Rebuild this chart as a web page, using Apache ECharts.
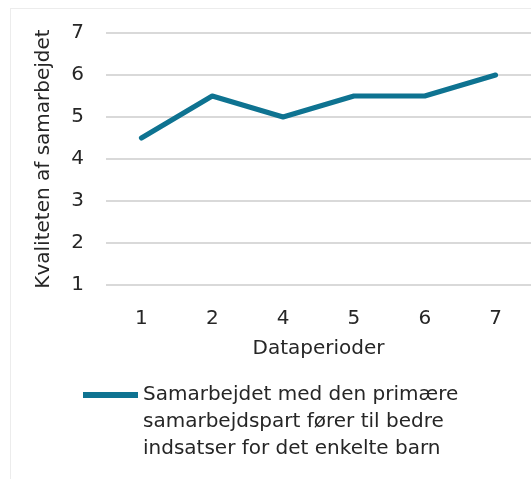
<!DOCTYPE html>
<html>
<head>
<meta charset="utf-8">
<script src="https://cdn.jsdelivr.net/npm/echarts@6/dist/echarts.min.js"></script>
<style>
  html, body { margin: 0; padding: 0; background: #fff; }
  #frame { position: absolute; left: 10px; top: 8px; width: 521px; height: 471px; border-left: 1px solid #ececec; border-top: 1px solid #ececec; }
  #chart { position: absolute; left: 0; top: 0; width: 531px; height: 479px; }
</style>
</head>
<body>
<div id="frame"></div>
<div id="chart"></div>
<script>
// data
const periods = ['1', '2', '4', '5', '6', '7']
const quality = [4.5, 5.5, 5, 5.5, 5.5, 6]
const seriesName = 'Samarbejdet med den primære\nsamarbejdspart fører til bedre\nindsatser for det enkelte barn'

const textColor = '#262626'
const fontFamily = 'DejaVu Sans, Verdana, sans-serif'
const fontSize = 20

const chartInstance = echarts.init(document.getElementById('chart'))

const option = {
  animation: false,
  textStyle: { fontFamily: fontFamily, color: textColor },
  grid: { left: 106, right: 0, top: 33, bottom: 194 },
  legend: {
    left: 83,
    top: 381,
    padding: 0,
    // line at the top of a tall box, so it sits next to the first text line
    icon: 'path://M0,0L55,0L55,6L0,6ZM0,59',
    itemWidth: 55,
    itemHeight: 59,
    itemGap: 0,
    textStyle: {
      fontFamily: fontFamily,
      fontSize: fontSize,
      color: textColor,
      lineHeight: 27
    },
    data: [seriesName]
  },
  xAxis: {
    type: 'category',
    data: periods,
    name: 'Dataperioder',
    nameLocation: 'middle',
    nameGap: 54,
    nameTextStyle: { fontSize: fontSize, color: textColor, fontFamily: fontFamily },
    axisLine: { show: false },
    axisTick: { show: false },
    axisLabel: { fontSize: fontSize, color: textColor, margin: 24, fontFamily: fontFamily }
  },
  yAxis: {
    type: 'value',
    min: 1,
    max: 7,
    interval: 1,
    name: 'Kvaliteten af samarbejdet',
    nameLocation: 'middle',
    nameGap: 52,
    nameTextStyle: { fontSize: fontSize, color: textColor, fontFamily: fontFamily },
    axisLine: { show: false },
    axisTick: { show: false },
    axisLabel: { fontSize: fontSize, color: textColor, margin: 22, fontFamily: fontFamily },
    splitLine: { lineStyle: { color: '#d9d9d9', width: 2 } }
  },
  series: [{
    name: seriesName,
    type: 'line',
    data: quality,
    showSymbol: false,
    symbol: 'none',
    symbolKeepAspect: false,
    itemStyle: { color: '#0e7391' },
    lineStyle: { color: '#0e7391', width: 5, cap: 'round', join: 'round' }
  }]
}

chartInstance.setOption(option)
</script>
</body>
</html>
